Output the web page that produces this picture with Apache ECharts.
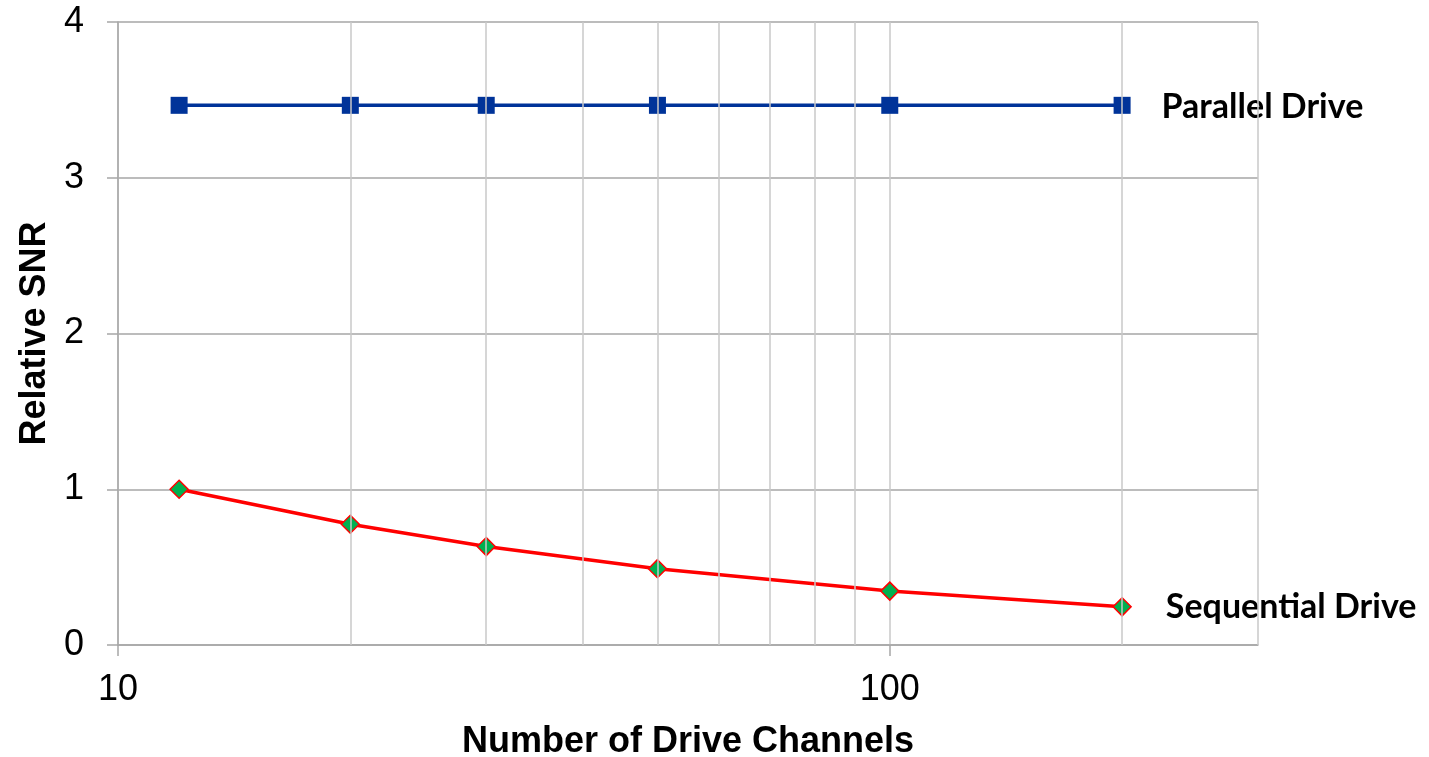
<!DOCTYPE html>
<html>
<head>
<meta charset="utf-8">
<script src="https://cdn.jsdelivr.net/npm/echarts@6/dist/echarts.min.js"></script>
<style>
html,body{margin:0;padding:0;background:#fff;}
#chart{width:1429px;height:757px;}
</style>
</head>
<body>
<div id="chart"></div>
<script>
const channels = [12, 20, 30, 50, 100, 200];
const parallelSNR = [3.465, 3.465, 3.465, 3.465, 3.465, 3.465];
const sequentialSNR = [1.0, 0.775, 0.632, 0.49, 0.346, 0.245];
const xLabelValues = [10, 100];
const minorGridValues = [20, 30, 40, 50, 60, 70, 80, 90, 200, 300];
const yTicks = [0, 1, 2, 3, 4];

const axisGray = '#a6a6a6';
const gridGray = '#c8c8c8';
const axisFont = 'Liberation Sans, Arial, sans-serif';
const labelFont = 'Lato, Noto Sans, sans-serif';

const chart = echarts.init(document.getElementById('chart'));
const lastIdx = channels.length - 1;

chart.setOption({
  animation: false,
  backgroundColor: '#fff',
  grid: { left: 118, right: 171, top: 22, bottom: 112, containLabel: false, outerBoundsMode: 'none' },
  xAxis: {
    type: 'log',
    logBase: 10,
    min: 10,
    max: 300,
    name: 'Number of Drive Channels',
    nameLocation: 'middle',
    nameGap: 79,
    nameTextStyle: { fontFamily: axisFont, fontWeight: 'bold', fontSize: 36, color: '#000' },
    axisLine: { show: true, lineStyle: { color: axisGray, width: 1.5 } },
    axisTick: { show: true, length: 11, customValues: xLabelValues, lineStyle: { color: axisGray, width: 1.5 } },
    axisLabel: {
      customValues: xLabelValues,
      formatter: v => (xLabelValues.indexOf(Math.round(v)) >= 0 ? String(Math.round(v)) : ''),
      fontFamily: axisFont, fontSize: 36, color: '#000', margin: 27
    },
    splitLine: { show: true, lineStyle: { color: gridGray, width: 1.5 } },
    minorTick: { show: false },
    minorSplitLine: { show: false }
  },
  yAxis: {
    type: 'value',
    min: 0,
    max: 4,
    interval: 1,
    name: 'Relative SNR',
    nameLocation: 'middle',
    nameGap: 60,
    nameTextStyle: { fontFamily: axisFont, fontWeight: 'bold', fontSize: 36, color: '#000' },
    axisLine: { show: true, lineStyle: { color: axisGray, width: 1.5 } },
    axisTick: { show: true, length: 11, lineStyle: { color: axisGray, width: 1.5 } },
    axisLabel: { fontFamily: axisFont, fontSize: 36, color: '#000', margin: 34 },
    splitLine: { show: true, lineStyle: { color: axisGray, width: 1.5 } }
  },
  series: [
    {
      name: 'grid',
      type: 'line',
      data: [],
      z: 0,
      silent: true,
      markLine: {
        silent: true,
        symbol: ['none', 'none'],
        label: { show: false },
        lineStyle: { type: 'solid', color: gridGray, width: 1.5 },
        emphasis: { disabled: true },
        data: minorGridValues.map(v => ({ xAxis: v }))
      }
    },
    {
      name: 'Parallel Drive',
      type: 'line',
      z: 3,
      data: channels.map((c, i) => [c, parallelSNR[i]]),
      symbol: 'rect',
      symbolSize: 17,
      itemStyle: { color: '#003399' },
      lineStyle: { color: '#003399', width: 3.5 },
      label: {
        show: true,
        position: 'right',
        distance: 31,
        offset: [0, 2],
        formatter: p => (p.dataIndex === lastIdx ? p.seriesName : ''),
        fontFamily: labelFont, fontWeight: 'bold', fontSize: 34, color: '#000'
      }
    },
    {
      name: 'Sequential Drive',
      type: 'line',
      z: 3,
      data: channels.map((c, i) => [c, sequentialSNR[i]]),
      symbol: 'diamond',
      symbolSize: 18,
      itemStyle: { color: '#00b050', borderColor: '#ff0000', borderWidth: 1.5 },
      lineStyle: { color: '#ff0000', width: 3.5 },
      label: {
        show: true,
        position: 'right',
        distance: 34,
        formatter: p => (p.dataIndex === lastIdx ? p.seriesName : ''),
        fontFamily: labelFont, fontWeight: 'bold', fontSize: 34, color: '#000'
      }
    }
  ]
});
</script>
</body>
</html>
